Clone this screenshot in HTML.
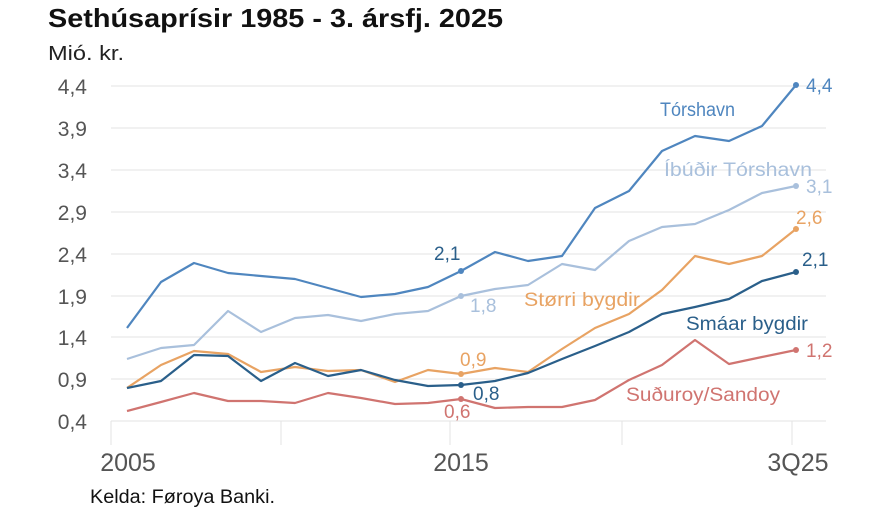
<!DOCTYPE html><html><head><meta charset="utf-8"><style>body{margin:0;background:#fff}svg{display:block;font-family:"Liberation Sans",sans-serif}</style></head><body>
<svg width="890" height="508" viewBox="0 0 890 508">
<text x="48" y="27" font-size="26" font-weight="bold" fill="#111" textLength="455" lengthAdjust="spacingAndGlyphs">Sethúsaprísir 1985 - 3. ársfj. 2025</text>
<text x="48" y="60" font-size="20" fill="#222" textLength="76" lengthAdjust="spacingAndGlyphs">Mió. kr.</text>
<g stroke="#e3e3e3" stroke-width="1">
<line x1="111" x2="826" y1="86" y2="86"/><line x1="111" x2="826" y1="128" y2="128"/><line x1="111" x2="826" y1="170" y2="170"/><line x1="111" x2="826" y1="212" y2="212"/><line x1="111" x2="826" y1="254" y2="254"/><line x1="111" x2="826" y1="296" y2="296"/><line x1="111" x2="826" y1="337" y2="337"/><line x1="111" x2="826" y1="379" y2="379"/><line x1="111" x2="826" y1="421" y2="421"/>
<line x1="111" x2="111" y1="421" y2="445"/><line x1="281" x2="281" y1="421" y2="445"/><line x1="450" x2="450" y1="421" y2="445"/><line x1="622" x2="622" y1="421" y2="445"/><line x1="792" x2="792" y1="421" y2="445"/>
</g>
<g font-size="21" fill="#555" text-anchor="end">
<text x="87" y="94">4,4</text><text x="87" y="136">3,9</text><text x="87" y="178">3,4</text><text x="87" y="220">2,9</text><text x="87" y="262">2,4</text><text x="87" y="304">1,9</text><text x="87" y="345">1,4</text><text x="87" y="387">0,9</text><text x="87" y="429">0,4</text>
</g>
<g font-size="25" fill="#555" text-anchor="middle">
<text x="128" y="471">2005</text><text x="461" y="471">2015</text><text x="798" y="471">3Q25</text></g>
<text x="90" y="503" font-size="19" fill="#111" textLength="185" lengthAdjust="spacingAndGlyphs">Kelda: Føroya Banki.</text>
<g fill="none" stroke-width="2.2" stroke-linejoin="round">
<polyline stroke="#d07470" points="127,411 161,402 194,393 228,401 261,401 295,403 328,393 361,398 395,404 428,403 461,399 495,408 528,407 562,407 595,400 629,380 662,365 695,340 729,364 762,357 796,350"/>
<polyline stroke="#a9c0dc" points="127,359 161,348 194,345 228,311 261,332 295,318 328,315 361,321 395,314 428,311 461,296 495,289 528,285 562,264 595,270 629,241 662,227 695,224 729,210 762,193 796,186"/>
<polyline stroke="#e8a363" points="127,388 161,365 194,351 228,354 261,372 295,367 328,371 361,370 395,382 428,370 461,374 495,368 528,372 562,349 595,328 629,314 662,290 695,256 729,264 762,256 796,229"/>
<polyline stroke="#2a5f8a" points="127,388 161,381 194,355 228,356 261,381 295,363 328,376 361,370 395,380 428,386 461,385 495,381 528,373 562,359 595,346 629,332 662,314 695,307 729,299 762,281 796,272"/>
<polyline stroke="#4f86bf" points="127,328 161,282 194,263 228,273 261,276 295,279 328,288 361,297 395,294 428,287 461,271 495,252 528,261 562,256 595,208 629,191 662,151 695,136 729,141 762,126 796,85"/>
</g>
<g>
<circle cx="461" cy="399" r="3" fill="#d07470"/><circle cx="796" cy="350" r="3" fill="#d07470"/>
<circle cx="461" cy="296" r="3" fill="#a9c0dc"/><circle cx="796" cy="186" r="3" fill="#a9c0dc"/>
<circle cx="461" cy="374" r="3" fill="#e8a363"/><circle cx="796" cy="229" r="3" fill="#e8a363"/>
<circle cx="461" cy="385" r="3" fill="#2a5f8a"/><circle cx="796" cy="272" r="3" fill="#2a5f8a"/>
<circle cx="461" cy="271" r="3" fill="#4f86bf"/><circle cx="796" cy="85" r="3" fill="#4f86bf"/>
</g>
<g font-size="19">
<text x="660" y="116" fill="#4f86bf" textLength="75" lengthAdjust="spacingAndGlyphs">Tórshavn</text><text x="806" y="92" fill="#4f86bf">4,4</text><text x="434" y="260" fill="#2a5f8a">2,1</text>
<text x="664" y="176" fill="#a9c0dc" textLength="148" lengthAdjust="spacingAndGlyphs">Íbúðir Tórshavn</text><text x="806" y="193" fill="#a9c0dc">3,1</text><text x="470" y="312" fill="#a9c0dc">1,8</text>
<text x="524" y="306" fill="#e8a363" textLength="116" lengthAdjust="spacingAndGlyphs">Størri bygdir</text><text x="796" y="224" fill="#e8a363">2,6</text><text x="460" y="366" fill="#e8a363">0,9</text>
<text x="686" y="330" fill="#2a5f8a" textLength="122" lengthAdjust="spacingAndGlyphs">Smáar bygdir</text><text x="802" y="266" fill="#2a5f8a">2,1</text><text x="473" y="400" fill="#2a5f8a">0,8</text>
<text x="626" y="401" fill="#d07470" textLength="154" lengthAdjust="spacingAndGlyphs">Suðuroy/Sandoy</text><text x="806" y="357" fill="#d07470">1,2</text><text x="444" y="418" fill="#d07470">0,6</text>
</g>
</svg></body></html>
